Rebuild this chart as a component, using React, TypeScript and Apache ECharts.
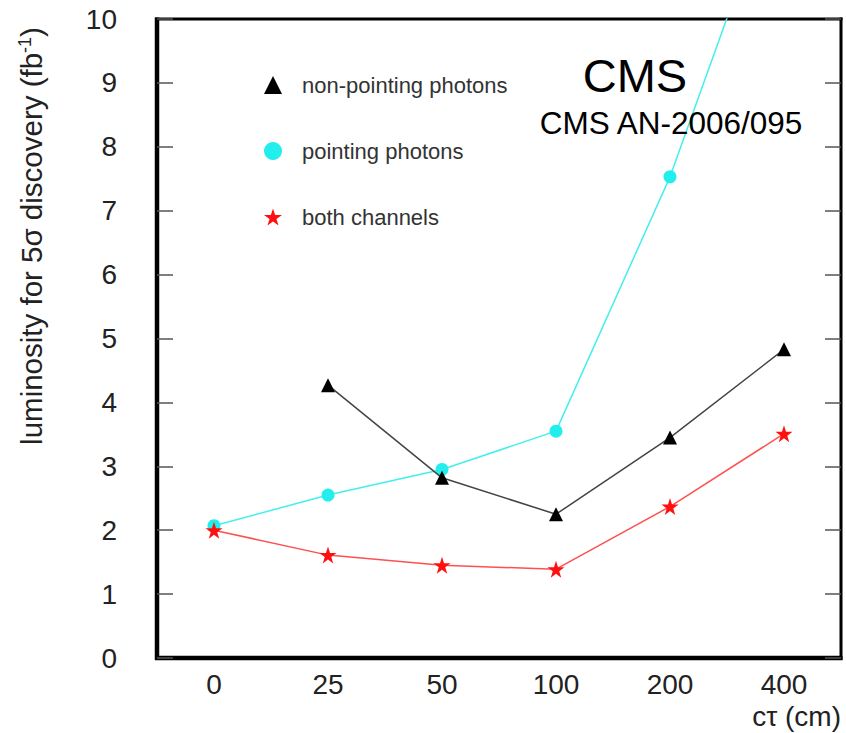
import React, { useEffect, useRef } from "react";
import * as echarts from "echarts";

const categories = ["0", "25", "50", "100", "200", "400"];
const nonPointing: (number | null)[] = [null, 4.27, 2.82, 2.25, 3.45, 4.83];
const pointing = [2.07, 2.55, 2.95, 3.55, 7.53, 12.5];
const bothChannels = [2.0, 1.61, 1.45, 1.39, 2.37, 3.51];
const yTicks = [0, 1, 2, 3, 4, 5, 6, 7, 8, 9, 10];

const STAR = "path://M50,0 L61.2,34.5 L97.6,34.5 L68.2,55.9 L79.4,90.5 L50,69.1 L20.6,90.5 L31.8,55.9 L2.4,34.5 L38.8,34.5 Z";
const FONT = "'Liberation Sans', Arial, Helvetica, sans-serif";

const G_LEFT = 157;
const G_TOP = 19;
const G_RIGHT = 5;
const G_BOTTOM = 75;
const W = 846;
const H = 733;

export default function App() {
  const ref = useRef<HTMLDivElement>(null);
  useEffect(() => {
    if (!ref.current) return;
    const chart = echarts.init(ref.current, null, { renderer: "svg" });
    const tickColor = "#555";
    const baseY = {
      type: "value" as const,
      min: yTicks[0],
      max: yTicks[yTicks.length - 1],
      interval: 1,
      splitLine: { show: false },
    };
    const x0 = G_LEFT;
    const y0 = G_TOP;
    const x1 = W - G_RIGHT;
    const y1 = H - G_BOTTOM;
    chart.setOption({
      animation: false,
      backgroundColor: "#fff",
      textStyle: { fontFamily: FONT },
      grid: { left: G_LEFT, right: G_RIGHT, top: G_TOP, bottom: G_BOTTOM, containLabel: false },
      legend: {
        orient: "vertical",
        left: 259,
        top: 69,
        itemWidth: 18,
        itemHeight: 18,
        itemGap: 44,
        selectedMode: false,
        textStyle: { fontSize: 22, color: "#333", fontFamily: FONT, lineHeight: 20, padding: [0, 0, 0, 15] },
        data: [
          { name: "non-pointing photons", icon: "triangle", itemStyle: { color: "#000" } },
          { name: "pointing photons", icon: "circle", itemStyle: { color: "#22eeee" } },
          { name: "both channels", icon: STAR, itemStyle: { color: "#ff1010" } },
        ],
      },
      xAxis: [
        {
          type: "category",
          data: categories,
          position: "bottom",
          boundaryGap: true,
          axisLine: { show: false },
          axisTick: { inside: true, length: 15, interval: 0, lineStyle: { color: tickColor, width: 1.5 } },
          axisLabel: { fontSize: 28, color: "#222", margin: 12, fontFamily: FONT },
          splitLine: { show: false },
        },
        {
          type: "category",
          data: categories,
          position: "top",
          boundaryGap: true,
          axisLine: { show: false },
          axisTick: { inside: true, length: 15, interval: 0, lineStyle: { color: tickColor, width: 1.5 } },
          axisLabel: { show: false },
          splitLine: { show: false },
        },
      ],
      yAxis: [
        {
          ...baseY,
          position: "left",
          axisLine: { show: false },
          axisTick: { show: true, inside: true, length: 16, lineStyle: { color: tickColor, width: 1.5 } },
          axisLabel: { fontSize: 28, color: "#222", margin: 40, fontFamily: FONT },
        },
        {
          ...baseY,
          position: "right",
          axisLine: { show: false },
          axisTick: { show: true, inside: true, length: 16, lineStyle: { color: tickColor, width: 1.5 } },
          axisLabel: { show: false },
        },
      ],
      series: [
        {
          name: "non-pointing photons",
          type: "line",
          data: nonPointing,
          symbol: "triangle",
          symbolSize: 14,
          itemStyle: { color: "#000" },
          lineStyle: { color: "#444", width: 1.5 },
          connectNulls: false,
          z: 3,
        },
        {
          name: "pointing photons",
          type: "line",
          data: pointing,
          symbol: "circle",
          symbolSize: 13,
          itemStyle: { color: "#22eeee" },
          lineStyle: { color: "#44eeee", width: 1.5 },
          z: 2,
        },
        {
          name: "both channels",
          type: "line",
          data: bothChannels,
          symbol: STAR,
          symbolSize: 17,
          itemStyle: { color: "#ff1010" },
          lineStyle: { color: "#ff5050", width: 1.5 },
          z: 4,
        },
      ],
      graphic: [
        {
          type: "group",
          silent: true,
          z: 20,
          children: [
            { type: "line", shape: { x1: x0 - 2, y1: y0, x2: x1 + 1.5, y2: y0 }, style: { stroke: "#000", lineWidth: 3 } },
            { type: "line", shape: { x1: x1, y1: y0 - 1.5, x2: x1, y2: y1 + 2 }, style: { stroke: "#000", lineWidth: 3 } },
            { type: "line", shape: { x1: x0, y1: y0 - 1.5, x2: x0, y2: y1 + 2 }, style: { stroke: "#000", lineWidth: 4.5 } },
            { type: "line", shape: { x1: x0 - 2, y1: y1, x2: x1 + 1.5, y2: y1 }, style: { stroke: "#000", lineWidth: 4.5 } },
          ],
        },
        {
          type: "text",
          x: 31,
          y: 236,
          rotation: Math.PI / 2,
          style: {
            text: "{a|luminosity for 5σ discovery (fb}{s|-1}{a|)}",
            textAlign: "center",
            textVerticalAlign: "middle",
            fill: "#222",
            rich: {
              a: { fontSize: 29.5, fontFamily: FONT, fill: "#222" },
              s: { fontSize: 18, fontFamily: FONT, fill: "#222", verticalAlign: "top" },
            },
          },
        },
        {
          type: "text",
          x: 841,
          y: 716,
          style: { text: "cτ (cm)", fontSize: 28, fontFamily: FONT, fill: "#222", textAlign: "right", textVerticalAlign: "middle" },
        },
        {
          type: "text",
          x: 635,
          y: 75,
          style: { text: "CMS", fontSize: 47, fontFamily: FONT, fill: "#000", textAlign: "center", textVerticalAlign: "middle" },
          z: 10,
        },
        {
          type: "text",
          x: 671,
          y: 123,
          style: { text: "CMS AN-2006/095", fontSize: 31.5, fontFamily: FONT, fill: "#000", textAlign: "center", textVerticalAlign: "middle" },
          z: 10,
        },
      ],
    });
    return () => chart.dispose();
  }, []);
  return (
    <div
      ref={ref}
      style={{ position: "fixed", left: 0, top: 0, width: W, height: H, background: "#fff" }}
    />
  );
}
